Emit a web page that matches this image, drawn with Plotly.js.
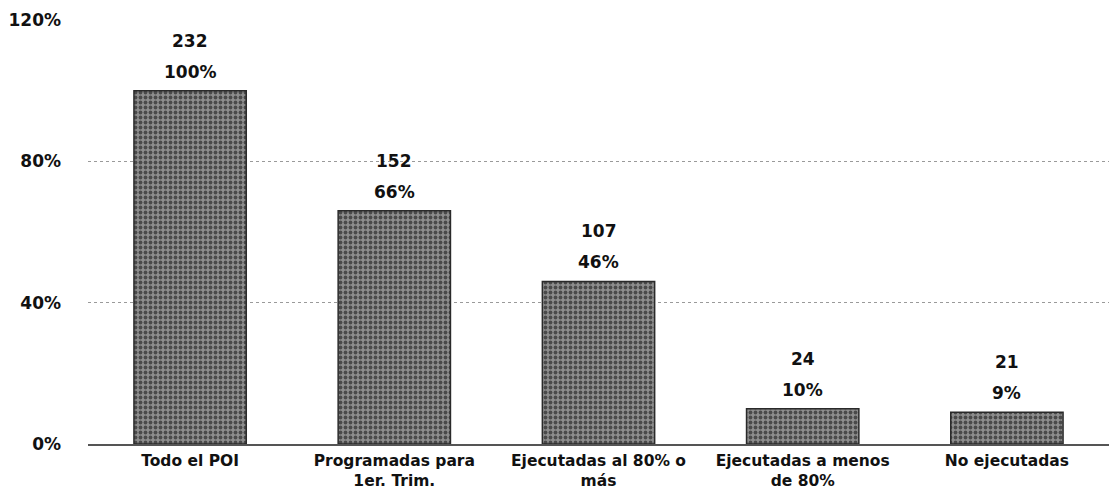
<!DOCTYPE html>
<html>
<head>
<meta charset="utf-8">
<script src="https://cdn.plot.ly/plotly-3.0.1.min.js"></script>
<style>html,body{margin:0;padding:0;background:#fff;}#chart{width:1109px;height:493px;}</style>
</head>
<body>
<div id="chart"></div>
<script>
const categories = ["Todo el POI", "Programadas para<br>1er. Trim.", "Ejecutadas al 80% o<br>más", "Ejecutadas a menos<br>de 80%", "No ejecutadas"];
const counts = [232, 152, 107, 24, 21];
const percents = [100, 66, 46, 10, 9];
const yTickVals = [0, 40, 80, 120];
const yTickText = ["0%", "40%", "80%", "120%"];

const FONT = "DejaVu Sans, sans-serif";

const trace = {
  type: "bar",
  x: categories,
  y: percents,
  marker: {
    color: "#7a7a7a",
    line: {color: "#2a2a2a", width: 1.5},
    pattern: {shape: ".", fgcolor: "#4a4a4a", bgcolor: "#8e8e8e", size: 5, solidity: 0.45}
  },
  hoverinfo: "skip"
};

const annotations = [];
categories.forEach((c, i) => {
  annotations.push({x: c, y: percents[i], xref: "x", yref: "y", text: "<b>" + counts[i] + "</b>",
    showarrow: false, yanchor: "middle", yshift: 50, font: {family: FONT, size: 17, color: "#111"}});
  annotations.push({x: c, y: percents[i], xref: "x", yref: "y", text: "<b>" + percents[i] + "%</b>",
    showarrow: false, yanchor: "middle", yshift: 19, font: {family: FONT, size: 17, color: "#111"}});
});

const layout = {
  width: 1109, height: 493,
  margin: {l: 88, r: 0, t: 20, b: 49},
  paper_bgcolor: "#fff", plot_bgcolor: "#fff",
  showlegend: false,
  bargap: 0.45,
  font: {family: FONT, color: "#111"},
  annotations: annotations,
  xaxis: {
    tickmode: "array",
    tickvals: categories,
    ticktext: categories.map(c => "<b>" + c + "</b>"),
    tickfont: {family: FONT, size: 15.5, color: "#111"},
    showline: true, linecolor: "#555", linewidth: 1.5,
    ticks: "", ticklabelstandoff: 2, automargin: false, fixedrange: true
  },
  yaxis: {
    range: [0, 120],
    tickmode: "array",
    tickvals: yTickVals,
    ticktext: yTickText.map(t => "<b>" + t + "</b>"),
    tickfont: {family: FONT, size: 17, color: "#111"},
    showgrid: true, gridcolor: "#9a9a9a", griddash: "dot", gridwidth: 1,
    zeroline: false, showline: false, ticks: "",
    ticklabelstandoff: 26,
    automargin: false, fixedrange: true
  }
};

Plotly.newPlot("chart", [trace], layout, {displayModeBar: false, staticPlot: true});
</script>
</body>
</html>
